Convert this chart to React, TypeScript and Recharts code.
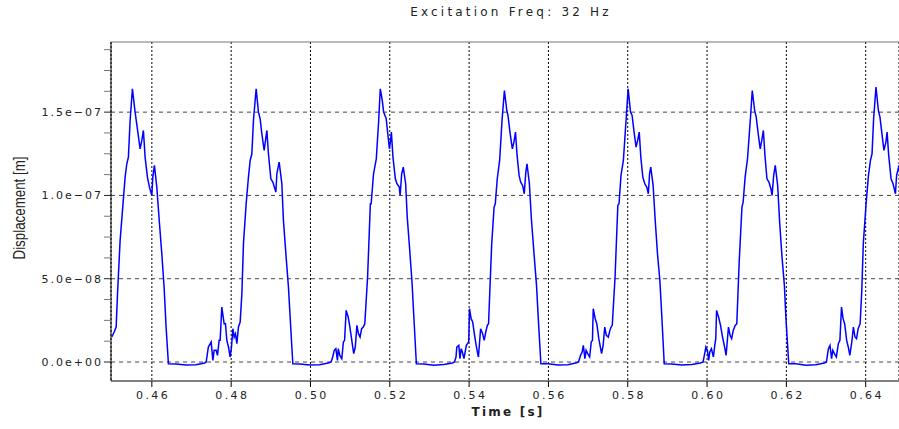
import { LineChart, Line, XAxis, YAxis, CartesianGrid, ReferenceLine } from 'recharts'

// peak time of each excitation cycle (s)
const PEAK_TIMES = [0.4551, 0.4863, 0.5176, 0.5489, 0.5801, 0.6114, 0.6426]

// each cycle: [ms relative to its peak, displacement in nm]
const cycle0: [number, number][] = [
  [-5.2, 15], [-4.6, 18], [-4.1, 21], [-3.76, 41], [-3.1, 73], [-2.4, 94], [-1.84, 111], [-1.41, 119],
  [-1.01, 123], [-0.58, 145], [0, 164], [0.68, 150], [1.26, 140], [1.94, 128], [2.37, 133], [2.77, 139],
  [3.2, 123], [3.78, 111], [4.29, 105], [4.89, 100], [5.14, 111], [5.55, 118], [6.15, 105], [6.73, 86],
  [7.41, 65], [7.99, 45], [8.49, 21], [9.08, -1], [11, -1.2], [13.5, -1.8], [16, -1.6], [18.2, -0.6],
]
const cycle1: [number, number][] = [
  [-12.6, 0], [-12.05, 9], [-11.34, 12], [-10.91, 1], [-10.59, 7], [-10.08, 7], [-9.75, 4], [-9.33, 13],
  [-9.08, 13], [-8.66, 33], [-8.07, 23], [-7.74, 23], [-7.39, 13], [-6.98, 9], [-6.55, 3], [-6.22, 9],
  [-5.87, 20], [-5.55, 15], [-5.22, 17], [-4.87, 11], [-4.46, 21], [-4.03, 24], [-3.6, 41], [-3.2, 71],
  [-2.52, 95], [-1.94, 111], [-1.51, 121], [-1.08, 125], [-0.68, 145], [0, 164], [0.58, 150], [1.01, 146],
  [1.44, 137], [2.02, 127], [2.7, 139], [3.1, 125], [3.71, 110], [4.21, 108], [4.97, 102], [5.22, 113],
  [5.8, 120], [6.48, 107], [6.88, 85], [7.56, 63], [8.14, 45], [8.57, 27], [9.25, -1], [11, -1.2],
  [13.5, -1.8], [16, -1.6], [18.2, -0.6],
]
const cycle2: [number, number][] = [
  [-12.4, 0], [-12.0, 3], [-11.6, 7], [-11.2, 8], [-10.8, 1], [-10.6, 8], [-10.2, 4], [-9.7, 2],
  [-9.3, 12], [-9.0, 13], [-8.6, 31], [-8.1, 27], [-7.8, 23], [-7.3, 15], [-6.7, 5], [-6.3, 9],
  [-5.9, 22], [-5.5, 17], [-5.1, 15], [-4.7, 20], [-4.3, 21], [-3.9, 23], [-3.2, 51], [-2.5, 95],
  [-2.3, 95], [-1.7, 113], [-1.0, 122], [-0.4, 145], [0, 164], [0.5, 157], [0.85, 150], [1.5, 146],
  [1.8, 139], [2.3, 128], [2.6, 133], [2.8, 138], [3.2, 123], [3.8, 110], [4.2, 107], [4.8, 105],
  [5.0, 100], [5.4, 113], [5.8, 117], [6.4, 107], [6.8, 87], [7.4, 68], [8.0, 48], [8.4, 30],
  [9.1, -1], [11, -1.2], [13.5, -1.9], [16, -1.5], [18.2, -0.6],
]
const cycle3: [number, number][] = [
  [-12.6, 0], [-12.2, 3], [-12.0, 9], [-11.5, 10], [-11.2, 2], [-10.9, 8], [-10.6, 6], [-10.2, 2],
  [-9.6, 10], [-9.0, 12], [-8.8, 32], [-8.4, 26], [-8.0, 24], [-7.4, 14], [-6.9, 7], [-6.55, 3],
  [-6.0, 20], [-5.5, 17], [-5.1, 13], [-4.7, 18], [-4.3, 22], [-4.0, 23], [-3.2, 71], [-2.6, 93],
  [-2.3, 95], [-1.8, 110], [-1.2, 121], [-0.6, 145], [0, 163], [0.6, 151], [0.9, 148], [1.4, 138],
  [2.0, 128], [2.4, 132], [2.8, 138], [3.2, 124], [3.7, 112], [4.1, 108], [4.6, 106], [5.0, 101],
  [5.4, 114], [5.7, 119], [6.3, 107], [6.8, 86], [7.5, 64], [8.1, 46], [8.5, 28], [9.2, -1],
  [11, -1], [13.5, -1.8], [16, -1.6], [18.2, -0.5],
]
const cycle4: [number, number][] = [
  [-12.5, 0], [-12.0, 4], [-11.6, 6], [-11.3, 10], [-10.9, 2], [-10.6, 7], [-10.2, 5], [-9.7, 3],
  [-9.3, 12], [-9.0, 13], [-8.8, 32], [-8.3, 26], [-7.9, 23], [-7.4, 14], [-6.7, 5], [-6.3, 10],
  [-5.9, 21], [-5.5, 16], [-5.0, 15], [-4.6, 19], [-4.3, 21], [-4.0, 22], [-3.3, 51], [-2.6, 94],
  [-2.3, 95], [-1.8, 112], [-1.2, 121], [-0.5, 146], [0, 164], [0.6, 150], [1.0, 148], [1.5, 138],
  [2.0, 129], [2.4, 133], [2.8, 138], [3.2, 123], [3.7, 111], [4.2, 107], [4.7, 105], [5.1, 101],
  [5.4, 113], [5.7, 117], [6.3, 106], [6.8, 86], [7.4, 65], [8.0, 49], [8.5, 27], [9.1, -1],
  [11, -1.2], [13.5, -1.8], [16, -1.5], [18.2, -0.6],
]
const cycle5: [number, number][] = [
  [-12.4, 0], [-12.0, 5], [-11.7, 9], [-11.3, 7], [-11.0, 1], [-10.7, 6], [-10.3, 8], [-9.8, 3],
  [-9.4, 11], [-9.2, 14], [-9.0, 31], [-8.5, 27], [-8.0, 22], [-7.5, 15], [-6.9, 8], [-6.6, 4],
  [-6.0, 21], [-5.6, 16], [-5.2, 14], [-4.8, 19], [-4.3, 22], [-3.9, 23], [-3.3, 60], [-2.6, 93],
  [-2.3, 96], [-1.8, 111], [-1.2, 122], [-0.5, 145], [0, 163], [0.6, 151], [1.0, 147], [1.5, 137],
  [2.0, 128], [2.4, 133], [2.8, 139], [3.2, 124], [3.7, 110], [4.2, 108], [4.7, 104], [5.0, 100],
  [5.4, 112], [5.8, 118], [6.4, 106], [6.9, 84], [7.5, 63], [8.1, 46], [8.5, 26], [9.2, -1],
  [11, -1.1], [13.5, -1.9], [16, -1.6], [18.2, -0.6],
]
const cycle6: [number, number][] = [
  [-12.5, 0], [-12.0, 8], [-11.6, 10], [-11.2, 2], [-10.9, 7], [-10.5, 5], [-10.0, 3], [-9.5, 11],
  [-9.1, 13], [-8.7, 33], [-8.3, 26], [-7.9, 23], [-7.4, 13], [-6.9, 8], [-6.6, 4], [-6.1, 12],
  [-5.7, 21], [-5.3, 15], [-4.9, 14], [-4.5, 20], [-4.0, 23], [-3.6, 42], [-3.2, 71], [-2.5, 95],
  [-1.9, 112], [-1.4, 121], [-1.0, 125], [-0.6, 146], [0, 165], [0.6, 151], [1.0, 147], [1.5, 137],
  [2.0, 127], [2.5, 132], [2.8, 138], [3.2, 124], [3.8, 110], [4.3, 107], [4.9, 101], [5.2, 112],
  [5.8, 118], [6.4, 106], [6.9, 85],
]

const CYCLES = [cycle0, cycle1, cycle2, cycle3, cycle4, cycle5, cycle6]

const X_TICKS = [0.46, 0.48, 0.5, 0.52, 0.54, 0.56, 0.58, 0.6, 0.62, 0.64]
const Y_TICKS = [
  0, 1.25e-8, 2.5e-8, 3.75e-8, 5e-8, 6.25e-8, 7.5e-8, 8.75e-8, 1e-7, 1.125e-7, 1.25e-7, 1.375e-7,
  1.5e-7, 1.625e-7, 1.75e-7, 1.875e-7,
]
const Y_MAJOR = [0, 5e-8, 1e-7, 1.5e-7]
const X_DOMAIN = [0.4497, 0.6484]
const Y_DOMAIN = [-1.14e-8, 1.921e-7]

const data = CYCLES.flatMap((cycle, i) =>
  cycle.map(([ms, nm]) => ({ time: PEAK_TIMES[i] + ms / 1000, disp: nm * 1e-9 }))
)

const FONT = "'DejaVu Sans', Verdana, sans-serif"
const NARROW = "'Liberation Sans', Arial, sans-serif"

function sci(v: number) {
  const [m, e] = v.toExponential(1).split('e')
  const n = parseInt(e, 10)
  return `${m}e${n < 0 ? '\u2212' : '+'}${String(Math.abs(n)).padStart(2, '0')}`
}

function YTick({ x, y, payload }: any) {
  const v = payload.value
  const major = Y_MAJOR.some((m) => Math.abs(m - v) < 1e-12)
  return (
    <g>
      <line x1={x} x2={x + 7} y1={y} y2={y} stroke={major ? '#222' : '#777'} strokeWidth={1} />
      {major && (
        <text x={x - 1} y={y} dy="0.355em" textAnchor="end" fontFamily={FONT} fontSize={11} fill="#222"
          style={{ letterSpacing: '2px' }}>
          {sci(v)}
        </text>
      )}
    </g>
  )
}

function XTick({ x, y, payload }: any) {
  return (
    <text x={x + 1.2} y={y} dy="0.71em" textAnchor="middle" fontFamily={FONT} fontSize={11} fill="#222"
      style={{ letterSpacing: '2.4px' }}>
      {payload.value.toFixed(2)}
    </text>
  )
}

export default function App() {
  return (
    <div style={{ position: 'absolute', left: 0, top: 0, width: 899, height: 429, background: '#fff' }}>
      <div
        style={{
          position: 'absolute', left: 111, top: 5, width: 788, textAlign: 'center',
          fontFamily: FONT, fontSize: 12, color: '#222', letterSpacing: '3.2px', paddingLeft: 6,
        }}
      >
        Excitation Freq: 32 Hz
      </div>
      <LineChart width={899} height={429} data={data} margin={{ top: 42, right: 0, bottom: 0, left: 0 }}>
        <CartesianGrid vertical horizontal={false} stroke="#000" strokeDasharray="2 2" />
        {Y_MAJOR.map((v) => (
          <ReferenceLine key={v} y={v} stroke="#444" strokeDasharray="4 4" />
        ))}
        <ReferenceLine y={Y_DOMAIN[1]} stroke="#777" />
        <XAxis
          type="number"
          dataKey="time"
          domain={X_DOMAIN}
          ticks={X_TICKS}
          allowDataOverflow
          height={48}
          tickSize={6}
          tickMargin={4}
          interval={0}
          axisLine={{ stroke: '#000' }}
          tickLine={{ stroke: '#000' }}
          tick={<XTick />}
          label={({ viewBox }: any) => (
            <text x={viewBox.x + viewBox.width / 2 + 3} y={416} textAnchor="middle" fontFamily={FONT}
              fontSize={12} fontWeight="bold" fill="#222" style={{ letterSpacing: '2.2px' }}>
              Time [s]
            </text>
          )}
        />
        <YAxis
          type="number"
          domain={Y_DOMAIN}
          ticks={Y_TICKS}
          allowDataOverflow
          width={111}
          tickSize={7}
          tickMargin={0}
          interval={0}
          axisLine={{ stroke: '#000' }}
          tickLine={false}
          tick={<YTick />}
          label={() => (
            <text x={25} y={208} transform="rotate(-90 25 208)" textAnchor="middle" fontFamily={NARROW}
              fontSize={16} fill="#222" textLength={103} lengthAdjust="spacingAndGlyphs">
              Displacement [m]
            </text>
          )}
        />
        <Line
          type="linear"
          dataKey="disp"
          stroke="#0000ff"
          strokeWidth={1.5}
          dot={false}
          isAnimationActive={false}
        />
      </LineChart>
    </div>
  )
}
